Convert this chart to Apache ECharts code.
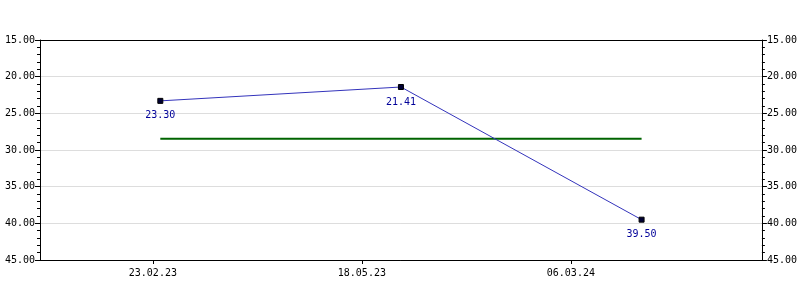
<!DOCTYPE html>
<html>
<head>
<meta charset="utf-8">
<script src="https://cdn.jsdelivr.net/npm/echarts@6/dist/echarts.min.js"></script>
<style>html,body{margin:0;padding:0;background:#fff}#c{width:800px;height:300px}</style>
</head>
<body>
<div id="c"></div>
<script>
var categories = ['23.02.23', '18.05.23', '06.03.24'];
var priceValues = [23.30, 21.41, 39.50];
var averageLevel = 28.45;
var yTicks = [15, 20, 25, 30, 35, 40, 45];
// label axis placement (category index units)
var labelAxisMin = -0.54, labelAxisMax = 2.914;

var FONT = 'DejaVu Sans Mono';
var chart = echarts.init(document.getElementById('c'), null, {renderer: 'canvas'});
var yAxisCommon = {
  type: 'value', inverse: true, min: yTicks[0], max: yTicks[yTicks.length - 1], interval: 5,
  axisLine: {show: true, onZero: false, lineStyle: {color: '#000', width: 1}},
  axisTick: {show: true, length: 5, lineStyle: {color: '#000'}},
  minorTick: {show: true, splitNumber: 5, length: 3, lineStyle: {color: '#000'}},
  axisLabel: {fontFamily: FONT, fontSize: 10, color: '#000', margin: 5,
    formatter: function (v) { return v.toFixed(2); }},
  splitLine: {show: true, lineStyle: {color: '#dddddd', width: 1}}
};
chart.setOption({
  animation: false,
  grid: {left: 40, right: 38, top: 40, bottom: 40, show: false},
  xAxis: [
    {type: 'category', data: categories, boundaryGap: true, position: 'top',
     axisLine: {show: true, onZero: false, lineStyle: {color: '#000'}}, axisTick: {show: false}, axisLabel: {show: false}, splitLine: {show: false}},
    {type: 'value', position: 'bottom', min: labelAxisMin, max: labelAxisMax,
     axisLine: {show: true, onZero: false, lineStyle: {color: '#000'}},
     axisTick: {show: true, length: 4, customValues: categories.map(function (c, i) { return i; }), lineStyle: {color: '#000'}},
     axisLabel: {fontFamily: FONT, fontSize: 10, color: '#000', margin: 8,
       customValues: categories.map(function (c, i) { return i; }),
       formatter: function (v) { return categories[Math.round(v)]; }},
     splitLine: {show: false}}
  ],
  yAxis: [
    Object.assign({position: 'left'}, yAxisCommon),
    Object.assign({position: 'right'}, yAxisCommon, {splitLine: {show: false}})
  ],
  series: [
    {type: 'line', xAxisIndex: 0, yAxisIndex: 0, data: categories.map(function () { return averageLevel; }),
     symbol: 'none', lineStyle: {color: '#006400', width: 2}, z: 2},
    {type: 'line', xAxisIndex: 0, yAxisIndex: 0, data: priceValues,
     symbol: 'rect', symbolSize: 5, showAllSymbol: true,
     itemStyle: {color: '#000033', borderColor: '#000', borderWidth: 1},
     lineStyle: {color: '#3333bb', width: 1},
     label: {show: true, position: 'bottom', distance: 7, color: '#000099', fontFamily: FONT, fontSize: 10,
       formatter: function (p) { return p.value.toFixed(2); }},
     z: 3}
  ]
});
</script>
</body>
</html>
